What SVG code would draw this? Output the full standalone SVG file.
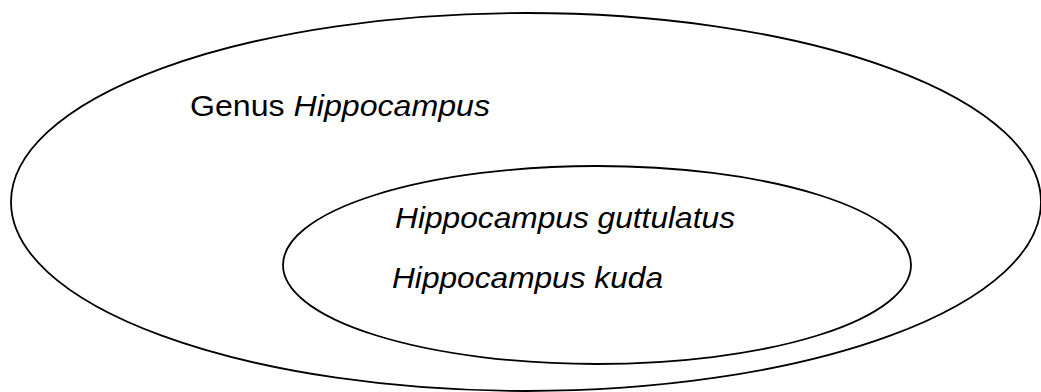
<svg xmlns="http://www.w3.org/2000/svg" width="1041" height="392" viewBox="0 0 1041 392">
<style>
.e{fill:none;stroke:#000;stroke-width:1.8}
.t{font-family:"Liberation Sans",Arial,sans-serif;font-size:29px;fill:#000}
.i{font-style:italic}
</style>
<rect width="1041" height="392" fill="#fff"/>
<g id="genus">
<ellipse class="e" cx="526" cy="202" rx="515" ry="189"/>
<text class="t" x="190" y="116" textLength="300" lengthAdjust="spacingAndGlyphs">Genus <tspan class="i">Hippocampus</tspan></text>
</g>
<g id="species">
<ellipse class="e" cx="597" cy="265" rx="314" ry="99"/>
<text class="t i" x="395" y="228" textLength="340" lengthAdjust="spacingAndGlyphs">Hippocampus guttulatus</text>
<text class="t i" x="392" y="288" textLength="271" lengthAdjust="spacingAndGlyphs">Hippocampus kuda</text>
</g>
<g id="connectors"/>
</svg>
